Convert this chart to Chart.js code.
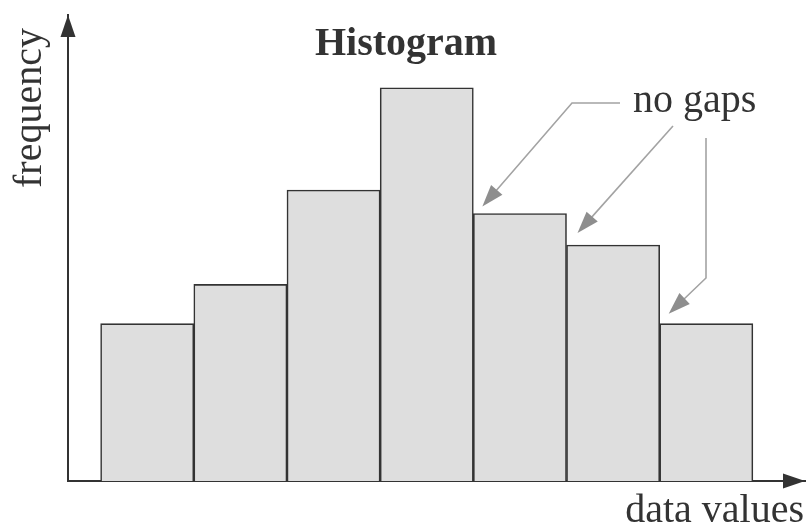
<!DOCTYPE html>
<html lang="en">
  <head>
    <meta charset="UTF-8" />
    <title>Histogram</title>
    <style>
      html, body { margin: 0; padding: 0; background: #fff; }
      .chart-container { width: 806px; height: 524px; position: relative; }
    </style>
  </head>
  <body>
    <div class="chart-container">
      <canvas id="histChart"></canvas>
    </div>

    <script src="https://cdn.jsdelivr.net/npm/chart.js"></script>
    <script>
      // bins (centres) and their frequencies
      var binCenters = [1, 2, 3, 4, 5, 6, 7];
      var frequencies = [4, 5, 7.4, 10, 6.8, 6, 4];
      var chartTitle = "Histogram";
      var xAxisLabel = "data values";
      var yAxisLabel = "frequency";
      var calloutText = "no gaps";

      var serif = '"Liberation Serif", "DejaVu Serif", serif';
      var inkColor = "#333333";

      function arrowHead(ctx, fromX, fromY, toX, toY) {
        var ang = Math.atan2(toY - fromY, toX - fromX);
        var len = 22, half = 7.5;
        ctx.beginPath();
        ctx.moveTo(toX, toY);
        ctx.lineTo(toX - len * Math.cos(ang) + half * Math.sin(ang), toY - len * Math.sin(ang) - half * Math.cos(ang));
        ctx.lineTo(toX - len * Math.cos(ang) - half * Math.sin(ang), toY - len * Math.sin(ang) + half * Math.cos(ang));
        ctx.closePath();
        ctx.fill();
      }

      // gray leader line that ends in an arrow head at the last point
      function callout(ctx, pts) {
        var n = pts.length;
        var a = pts[n - 2], b = pts[n - 1];
        var ang = Math.atan2(b[1] - a[1], b[0] - a[0]);
        ctx.strokeStyle = "#a3a3a3";
        ctx.fillStyle = "#8e8e8e";
        ctx.lineWidth = 1.6;
        ctx.beginPath();
        ctx.moveTo(pts[0][0], pts[0][1]);
        for (var i = 1; i < n - 1; i++) ctx.lineTo(pts[i][0], pts[i][1]);
        ctx.lineTo(b[0] - 18 * Math.cos(ang), b[1] - 18 * Math.sin(ang));
        ctx.stroke();
        arrowHead(ctx, a[0], a[1], b[0], b[1]);
      }

      var decorations = {
        id: "decorations",
        afterDraw: function (chart) {
          var ctx = chart.ctx;
          var area = chart.chartArea;
          var xs = chart.scales.x;
          var ys = chart.scales.y;
          ctx.save();

          // axis arrow heads
          ctx.fillStyle = inkColor;
          arrowHead(ctx, area.left, area.bottom, area.left, area.top);
          arrowHead(ctx, area.left, area.bottom, area.right - 1, area.bottom);

          // texts
          ctx.fillStyle = inkColor;
          ctx.font = "bold 40px " + serif;
          ctx.textAlign = "center";
          ctx.textBaseline = "alphabetic";
          ctx.fillText(chartTitle, 406, 55);

          ctx.font = "40px " + serif;
          ctx.textAlign = "left";
          ctx.fillText(calloutText, 633, 112);

          ctx.textAlign = "right";
          ctx.fillText(xAxisLabel, 804, 522);

          ctx.save();
          ctx.translate(41, 108);
          ctx.rotate(-Math.PI / 2);
          ctx.textAlign = "center";
          ctx.fillText(yAxisLabel, 0, 0);
          ctx.restore();

          // "no gaps" pointers, aimed at the bar joins
          function corner(i) {
            return [xs.getPixelForValue(binCenters[i] - 0.5), ys.getPixelForValue(frequencies[i])];
          }
          var c5 = corner(4), c6 = corner(5), c7 = corner(6);
          callout(ctx, [[620, 103], [572, 103], [c5[0] + 9, c5[1] - 7]]);
          callout(ctx, [[673, 126], [c6[0] + 11, c6[1] - 12]]);
          callout(ctx, [[706, 138], [706, 278], [c7[0] + 9, c7[1] - 10]]);

          ctx.restore();
        },
      };

      var ctxHist = document.getElementById("histChart").getContext("2d");
      var histChart = new Chart(ctxHist, {
        type: "bar",
        data: {
          datasets: [
            {
              label: yAxisLabel,
              data: binCenters.map(function (c, i) {
                return { x: c, y: frequencies[i] };
              }),
              backgroundColor: "#dedede",
              borderColor: "#333333",
              borderWidth: 1.6,
              borderSkipped: "bottom",
              barPercentage: 1,
              categoryPercentage: 1,
            },
          ],
        },
        options: {
          responsive: true,
          maintainAspectRatio: false,
          animation: false,
          events: [],
          layout: { padding: { left: 68, top: 15, right: 0, bottom: 43 } },
          plugins: {
            legend: { display: false },
            tooltip: { enabled: false },
          },
          scales: {
            x: {
              type: "linear",
              offset: false,
              min: 0.15,
              max: 8.07,
              // one tick per bin so the bars fill the whole bin width
              afterBuildTicks: function (scale) {
                scale.ticks = binCenters.map(function (v) {
                  return { value: v };
                });
              },
              grid: { display: false, drawTicks: false, offset: false },
              ticks: { display: false },
              border: { display: true, color: inkColor, width: 2 },
            },
            y: {
              min: 0,
              max: 11.85,
              grid: { display: false, drawTicks: false },
              ticks: { display: false },
              border: { display: true, color: inkColor, width: 2 },
            },
          },
        },
        plugins: [decorations],
      });
    </script>
  </body>
</html>
